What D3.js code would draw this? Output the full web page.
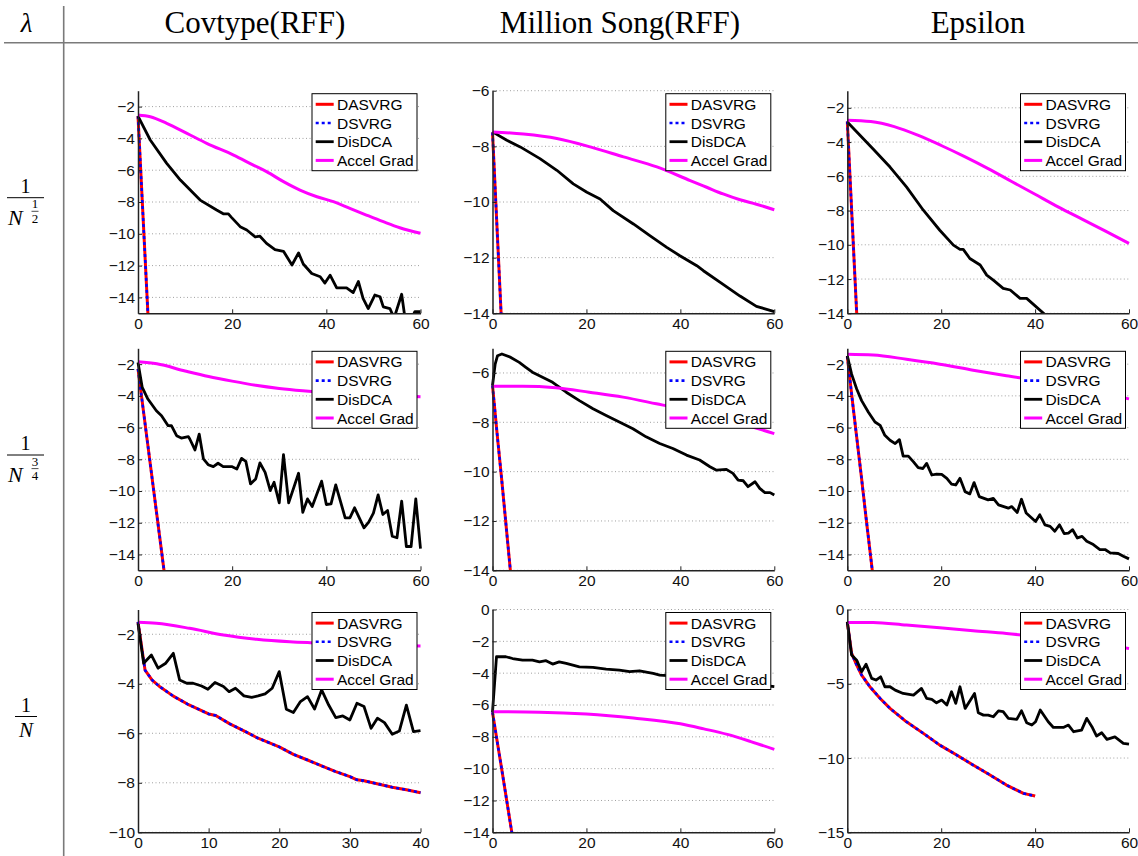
<!DOCTYPE html>
<html>
<head>
<meta charset="utf-8">
<script src="https://cdnjs.cloudflare.com/ajax/libs/d3/7.8.5/d3.min.js"></script>
<style>
  body { margin: 0; background: #fff; }
  svg text { font-family: "Liberation Sans", Arial, sans-serif; }
  svg text.serif { font-family: "Liberation Serif", "DejaVu Serif", serif; }
</style>
</head>
<body>
<svg id="chart" width="1138" height="856"></svg>
<script>
// column titles and legend names
var datasets = ["Covtype(RFF)", "Million Song(RFF)", "Epsilon"];
var seriesNames = ["DASVRG", "DSVRG", "DisDCA", "Accel Grad"];

// x ticks
var xTicks60 = [0, 20, 40, 60];
var xTicks40 = [0, 10, 20, 30, 40];

// y ranges and ticks
var yDomains = [
  [[-15, -1], [-14, -6], [-14, -1]],
  [[-15, -1], [-14, -5], [-15, -1]],
  [[-10, -1], [-14, 0], [-15, 0]]
];
var yTicksA = [-14, -12, -10, -8, -6, -4, -2];
var yTicksB = [-14, -12, -10, -8, -6];
var yTicksC = [-10, -8, -6, -4, -2];
var yTicksD = [-14, -12, -10, -8, -6, -4, -2, 0];
var yTicksE = [-15, -10, -5, 0];

// ---- lambda = 1/N^(1/2) ----
var cov1_dasvrg = [[0,-2.6],[1,-8.5],[2,-14.4],[3,-20.3]];
var cov1_disdca = [[0,-2.6],[2.6,-4.1],[6.1,-5.57],[9,-6.62],[13.2,-7.88],[16.7,-8.5],[18.2,-8.75],[19.2,-8.75],[19.8,-8.95],[21.7,-9.55],[23.1,-9.76],[24.9,-10.2],[25.9,-10.15],[27.3,-10.6],[29.1,-11.0],[30.9,-11.1],[32.7,-11.96],[34.1,-11.2],[35.1,-11.9],[36.9,-12.5],[38.7,-12.7],[39.7,-13.1],[40.8,-12.6],[42.2,-13.4],[44.3,-13.4],[45.7,-13.7],[46.8,-13.0],[47.8,-14.06],[48.9,-14.7],[50.3,-13.85],[51.4,-13.96],[52.1,-14.6],[53.5,-14.7],[54.4,-15.3],[56,-13.8],[56.8,-15.5],[58,-15.4],[58.8,-14.9],[60,-14.9]];
var cov1_accel = [[0,-2.53],[2.6,-2.64],[6.1,-3.05],[10.4,-3.68],[14.6,-4.31],[20.3,-5.05],[24.5,-5.68],[27.3,-6.09],[30.9,-6.72],[34.4,-7.25],[38,-7.67],[41.5,-7.98],[45,-8.4],[48.5,-8.82],[52.1,-9.24],[55.6,-9.62],[60,-9.97]];

var ms1_dasvrg = [[0,-7.5],[1,-11.05],[2,-14.6]];
var ms1_disdca = [[0,-7.48],[3.05,-7.78],[5.9,-8.02],[10.1,-8.44],[13.7,-8.86],[17.2,-9.35],[20.1,-9.65],[22.9,-9.89],[25.7,-10.31],[30,-10.79],[33.5,-11.21],[37.1,-11.63],[39.9,-11.93],[43.5,-12.29],[44.9,-12.47],[49.1,-12.96],[52.7,-13.38],[56.2,-13.75],[60,-13.94]];
var ms1_accel = [[0,-7.48],[6.6,-7.56],[13.7,-7.72],[20.8,-8.02],[27.9,-8.38],[35,-8.74],[42.1,-9.23],[45.6,-9.47],[49.1,-9.71],[52.7,-9.92],[56.2,-10.08],[60,-10.28]];

var eps1_dasvrg = [[0,-2.8],[1,-8.4],[2,-14],[3,-19.6]];
var eps1_disdca = [[0,-2.83],[5.5,-4.4],[9.1,-5.46],[12.6,-6.62],[16.2,-7.98],[19.7,-9.15],[22.6,-10.02],[24,-10.27],[24.7,-10.27],[26.1,-10.8],[28.3,-11.18],[29.7,-11.77],[31.1,-12.06],[33.2,-12.54],[34.7,-12.64],[36.8,-13.13],[38.2,-13.13],[41.8,-14.0],[43,-14.3]];
var eps1_accel = [[0,-2.72],[5,-2.8],[10,-3.1],[15,-3.6],[20,-4.2],[25,-4.85],[30,-5.55],[35,-6.3],[40,-7.05],[45,-7.8],[50,-8.5],[55,-9.2],[60,-9.92]];

// ---- lambda = 1/N^(3/4) ----
var cov2_dasvrg = [[0,-2.3],[1,-4.6],[2,-6.9],[3,-9.2],[4,-11.5],[5,-13.8],[6,-16.1]];
var cov2_disdca = [[0,-1.9],[0.9,-3.47],[2.1,-4.2],[3.9,-4.94],[5,-5.25],[6.4,-5.88],[7.1,-5.88],[8.2,-6.51],[9.2,-6.66],[10.7,-6.57],[11,-6.72],[12.1,-7.41],[13,-6.41],[13.9,-7.98],[14.9,-8.34],[16,-8.46],[17,-8.25],[18.1,-8.46],[19.9,-8.46],[21,-8.61],[22,-7.94],[22.9,-8.13],[23.9,-9.55],[25,-9.24],[25.9,-8.23],[27,-8.82],[28.1,-9.97],[28.9,-9.45],[30,-10.75],[30.9,-7.71],[32,-10.75],[34.1,-8.88],[35,-11.34],[36,-10.5],[37,-10.98],[39,-9.38],[40,-10.85],[41,-10.81],[42,-9.61],[44,-11.69],[45,-11.69],[46,-11.06],[48,-12.32],[49,-11.96],[50,-11.4],[51,-10.24],[52,-11.48],[53,-11.23],[54,-12.85],[55,-12.95],[56,-10.64],[57,-13.5],[58,-13.5],[59,-10.5],[60,-13.64]];
var cov2_accel = [[0,-1.85],[4,-1.98],[10,-2.43],[15,-2.78],[20,-3.07],[25,-3.33],[30,-3.53],[35,-3.68],[40,-3.8],[50,-3.95],[60,-4.05]];

var ms2_dasvrg = [[0,-6.5],[1,-8.5],[2,-10.4],[3,-12.4],[4,-14.4],[5,-16.3]];
var ms2_disdca = [[0,-6.51],[0.57,-5.64],[1.07,-5.3],[2,-5.23],[3.9,-5.37],[5.7,-5.57],[7.1,-5.77],[8.5,-5.97],[10,-6.11],[12.8,-6.38],[15.7,-6.78],[18.5,-7.12],[21.4,-7.45],[24.2,-7.72],[27,-7.99],[29.9,-8.26],[32.7,-8.59],[35.6,-8.86],[38.4,-9.06],[41.3,-9.33],[44.1,-9.53],[46.3,-9.8],[47.7,-9.94],[49.8,-9.91],[51.2,-10.07],[52.3,-10.34],[53.4,-10.37],[54.4,-10.61],[55.9,-10.41],[56.9,-10.68],[58,-10.85],[59.1,-10.85],[60,-10.95]];
var ms2_accel = [[0,-6.54],[6.4,-6.54],[13.5,-6.6],[20.6,-6.78],[27.8,-6.98],[34.9,-7.25],[40,-7.45],[45,-7.68],[50,-7.92],[55,-8.17],[60,-8.46]];

var eps2_dasvrg = [[0,-1.5],[1,-4.1],[2,-6.6],[3,-9.1],[4,-11.7],[5,-14.2],[6,-16.7]];
var eps2_disdca = [[0,-1.48],[0.92,-2.63],[2,-3.57],[3.05,-4.3],[4.5,-5.03],[5.9,-5.65],[7,-5.86],[8,-6.49],[9.1,-6.8],[10.2,-7.01],[11.1,-6.76],[11.9,-7.8],[13,-7.8],[14.1,-8.16],[15.1,-8.53],[16.1,-8.58],[16.9,-8.26],[18,-8.99],[19,-8.93],[20.1,-8.95],[21.2,-9.2],[22.2,-9.56],[23.1,-9.62],[24,-9.2],[25.1,-10.04],[26.1,-10.18],[27,-9.47],[28.1,-10.35],[30,-10.56],[31.1,-10.46],[32.2,-10.87],[34.3,-11.08],[35,-10.98],[36.2,-11.35],[37.1,-10.52],[38.1,-11.39],[40.1,-11.92],[41,-11.5],[42.1,-12.13],[43.2,-12.23],[44.2,-12.54],[45.2,-12.13],[46.2,-12.69],[47.1,-12.65],[48,-12.44],[49,-12.96],[50,-12.86],[51,-13.17],[52.4,-13.38],[53.8,-13.69],[54.9,-13.69],[56,-13.9],[57.7,-13.94],[58.8,-14.11],[60,-14.28]];
var eps2_accel = [[0,-1.37],[5.5,-1.42],[12.6,-1.69],[19.7,-2.0],[26.8,-2.38],[33.9,-2.73],[40,-3.0],[50,-3.55],[60,-4.19]];

// ---- lambda = 1/N ----
var cov3_dasvrg = [[0,-1.5],[1,-3.45],[2,-3.85],[3,-4.1],[5,-4.5],[7,-4.82],[10,-5.22],[11,-5.28],[13,-5.62],[15,-5.9],[17,-6.2],[20,-6.55],[22,-6.85],[24,-7.08],[26,-7.32],[28,-7.55],[30,-7.75],[31,-7.88],[32,-7.92],[34,-8.05],[36,-8.18],[38,-8.28],[40,-8.4]];
var cov3_disdca = [[0,-1.56],[0.8,-3.17],[1.9,-2.84],[2.84,-3.37],[3.93,-3.17],[5,-2.77],[5.9,-3.85],[6.9,-3.98],[7.8,-3.98],[9,-4.09],[9.9,-4.22],[10.9,-3.95],[12.1,-4.11],[12.9,-4.32],[13.8,-4.18],[15,-4.49],[16.1,-4.55],[17,-4.49],[18,-4.41],[19,-4.18],[20,-3.51],[21,-5.03],[22,-5.16],[23,-4.72],[24,-4.52],[25,-5.02],[26,-4.25],[27,-4.86],[28,-5.37],[29,-5.3],[30,-5.46],[31,-4.79],[32,-4.92],[33,-5.8],[33.9,-5.39],[34.9,-5.57],[36,-6.04],[37,-5.91],[38,-4.86],[39,-5.93],[40,-5.89]];
var cov3_accel = [[0,-1.52],[2.6,-1.56],[7.3,-1.76],[12.1,-2.03],[16.8,-2.2],[21.5,-2.3],[24.4,-2.34],[30,-2.4],[35,-2.44],[40,-2.47]];

var ms3_dasvrg = [[0,-6.45],[1,-8.3],[2,-10.1],[3,-11.95],[4,-13.8],[5,-15.6]];
var ms3_disdca = [[0,-6.45],[0.85,-2.97],[2.85,-2.97],[4.27,-3.08],[6.4,-3.18],[8.5,-3.18],[10,-3.29],[11.4,-3.22],[12.8,-3.43],[14.2,-3.29],[15.7,-3.39],[18.5,-3.6],[21.4,-3.64],[24.2,-3.75],[27,-3.81],[29.2,-3.91],[31.3,-3.85],[34.2,-4.02],[35.6,-4.12],[40,-4.2],[50,-4.5],[60,-4.85]];
var ms3_accel = [[0,-6.42],[10,-6.45],[20,-6.57],[30,-6.82],[40,-7.18],[45,-7.5],[50,-7.85],[55,-8.3],[60,-8.79]];

var eps3_dasvrg = [[0,-0.83],[0.92,-2.96],[2,-3.74],[3.05,-4.42],[4.8,-5.2],[7,-5.99],[9.1,-6.66],[12.6,-7.56],[16.2,-8.34],[19.7,-9.13],[23.3,-9.8],[26.8,-10.47],[30.4,-11.14],[33.9,-11.82],[37.5,-12.38],[40,-12.56]];
var eps3_disdca = [[0,-0.83],[0.92,-3.07],[2,-3.41],[3.05,-4.19],[4,-3.68],[5.2,-4.64],[6.1,-4.75],[7.1,-4.53],[8,-5.2],[9.1,-5.2],[10.2,-5.43],[11.9,-5.65],[14.1,-5.76],[15.8,-5.31],[16.9,-5.99],[18,-6.05],[19,-6.28],[20.1,-6.1],[21.2,-6.43],[22.2,-5.54],[23.1,-6.32],[24,-5.2],[25.1,-6.66],[27.1,-5.65],[27.9,-6.95],[29,-7.11],[30,-7.11],[31.1,-7.22],[32.2,-6.82],[33.2,-6.88],[34.3,-7.33],[36.1,-7.4],[37.1,-6.82],[38.2,-7.62],[39.3,-7.78],[40.1,-7.56],[41.1,-6.77],[42.8,-7.56],[43.9,-7.94],[46,-7.94],[47.1,-7.78],[48.2,-8.23],[49.9,-8.12],[51,-7.33],[52.1,-7.89],[53.1,-8.52],[54.2,-8.3],[55.3,-8.74],[57,-8.57],[58.8,-9.01],[60,-9.06]];
var eps3_accel = [[0,-0.87],[5.5,-0.87],[12.6,-1.05],[19.7,-1.23],[26.8,-1.43],[33.9,-1.61],[40,-1.82],[50,-2.18],[60,-2.62]];

// DSVRG sits exactly on DASVRG in every panel
var panels = [
  {r:0, c:0, xTicks:xTicks60, yTicks:yTicksA, s:[cov1_dasvrg, cov1_dasvrg, cov1_disdca, cov1_accel]},
  {r:0, c:1, xTicks:xTicks60, yTicks:yTicksB, s:[ms1_dasvrg, ms1_dasvrg, ms1_disdca, ms1_accel]},
  {r:0, c:2, xTicks:xTicks60, yTicks:yTicksA, s:[eps1_dasvrg, eps1_dasvrg, eps1_disdca, eps1_accel]},
  {r:1, c:0, xTicks:xTicks60, yTicks:yTicksA, s:[cov2_dasvrg, cov2_dasvrg, cov2_disdca, cov2_accel]},
  {r:1, c:1, xTicks:xTicks60, yTicks:yTicksB, s:[ms2_dasvrg, ms2_dasvrg, ms2_disdca, ms2_accel]},
  {r:1, c:2, xTicks:xTicks60, yTicks:yTicksA, s:[eps2_dasvrg, eps2_dasvrg, eps2_disdca, eps2_accel]},
  {r:2, c:0, xTicks:xTicks40, yTicks:yTicksC, s:[cov3_dasvrg, cov3_dasvrg, cov3_disdca, cov3_accel]},
  {r:2, c:1, xTicks:xTicks60, yTicks:yTicksD, s:[ms3_dasvrg, ms3_dasvrg, ms3_disdca, ms3_accel]},
  {r:2, c:2, xTicks:xTicks60, yTicks:yTicksE, s:[eps3_dasvrg, eps3_dasvrg, eps3_disdca, eps3_accel]}
];

var colX = [[138, 420.5], [492.5, 774.3], [847.3, 1129]];
var rowY = [[90.7, 313.3], [348.3, 570.3], [609.5, 832.3]];

var styles = [
  {color: "#ff0000", width: 3, dash: null},
  {color: "#0000ff", width: 2.6, dash: "3,3"},
  {color: "#000000", width: 2.8, dash: null},
  {color: "#ff00ff", width: 3, dash: null}
];

var svg = d3.select("#chart");
var minus = function(d) { return d < 0 ? "\u2212" + Math.abs(d) : String(d); };

// table frame
svg.append("line").attr("x1", 4).attr("x2", 1138).attr("y1", 42.7).attr("y2", 42.7)
  .attr("stroke", "#7a7a7a").attr("stroke-width", 1.6);
svg.append("line").attr("x1", 63.7).attr("x2", 63.7).attr("y1", 6).attr("y2", 856)
  .attr("stroke", "#7a7a7a").attr("stroke-width", 1.6);

svg.append("text").attr("class", "serif").attr("x", 26.5).attr("y", 32)
  .attr("text-anchor", "middle").attr("font-size", 27).attr("font-style", "italic")
  .text("\u03bb");

var titleX = [255, 620, 978];
datasets.forEach(function(name, i) {
  svg.append("text").attr("class", "serif").attr("x", titleX[i]).attr("y", 33)
    .attr("text-anchor", "middle").attr("font-size", 31).text(name);
});

// row labels: 1 / N^(1/2), 1 / N^(3/4), 1 / N
function fracLabel(barY, expTop, expBot) {
  var g = svg.append("g");
  var hasExp = expTop != null;
  var x1 = hasExp ? 7 : 15, x2 = hasExp ? 44 : 37;
  g.append("text").attr("class", "serif").attr("x", (x1 + x2) / 2).attr("y", barY - 5)
    .attr("text-anchor", "middle").attr("font-size", 20).text("1");
  g.append("line").attr("x1", x1).attr("x2", x2).attr("y1", barY).attr("y2", barY)
    .attr("stroke", "#000").attr("stroke-width", 1);
  if (hasExp) {
    g.append("text").attr("class", "serif").attr("x", 8).attr("y", barY + 27.3)
      .attr("font-size", 22).attr("font-style", "italic").text("N");
    g.append("text").attr("class", "serif").attr("x", 35).attr("y", barY + 10.6)
      .attr("text-anchor", "middle").attr("font-size", 13).text(expTop);
    g.append("line").attr("x1", 31.5).attr("x2", 38.5).attr("y1", barY + 13.6).attr("y2", barY + 13.6)
      .attr("stroke", "#000").attr("stroke-width", 0.7);
    g.append("text").attr("class", "serif").attr("x", 35).attr("y", barY + 25.4)
      .attr("text-anchor", "middle").attr("font-size", 13).text(expBot);
  } else {
    g.append("text").attr("class", "serif").attr("x", 26).attr("y", barY + 20)
      .attr("text-anchor", "middle").attr("font-size", 21).attr("font-style", "italic").text("N");
  }
}
fracLabel(197.7, "1", "2");
fracLabel(455, "3", "4");
fracLabel(716.5, null, null);

var defs = svg.append("defs");

panels.forEach(function(p, k) {
  var xr = colX[p.c], yr = rowY[p.r];
  var xMax = p.xTicks[p.xTicks.length - 1];
  var x = d3.scaleLinear().domain([0, xMax]).range(xr);
  var y = d3.scaleLinear().domain(yDomains[p.r][p.c]).range([yr[1], yr[0]]);

  var g = svg.append("g");

  // dotted horizontal grid
  g.selectAll("line.grid").data(p.yTicks).enter().append("line")
    .attr("class", "grid")
    .attr("x1", xr[0]).attr("x2", xr[1])
    .attr("y1", function(d) { return y(d); }).attr("y2", function(d) { return y(d); })
    .attr("stroke", "#a0a0a0").attr("stroke-width", 1).attr("stroke-dasharray", "1,2.5");

  defs.append("clipPath").attr("id", "clip" + k).append("rect")
    .attr("x", xr[0] - 3).attr("y", yr[0] - 3)
    .attr("width", xr[1] - xr[0] + 6).attr("height", yr[1] - yr[0] + 3);

  var line = d3.line().x(function(d) { return x(d[0]); }).y(function(d) { return y(d[1]); });
  var lines = g.append("g").attr("clip-path", "url(#clip" + k + ")");
  p.s.forEach(function(data, i) {
    var st = styles[i];
    var path = lines.append("path").datum(data)
      .attr("d", i == 3 ? line.curve(d3.curveMonotoneX) : line.curve(d3.curveLinear))
      .attr("fill", "none").attr("stroke", st.color).attr("stroke-width", st.width)
      .attr("stroke-linejoin", "round");
    if (st.dash) path.attr("stroke-dasharray", st.dash);
  });

  // axes, inward ticks, no box
  var yAxis = d3.axisLeft(y).tickValues(p.yTicks).tickFormat(minus)
    .tickSize(-4).tickSizeOuter(0).tickPadding(3);
  var xAxis = d3.axisBottom(x).tickValues(p.xTicks).tickFormat(minus)
    .tickSize(-4).tickSizeOuter(0).tickPadding(5);

  var ya = g.append("g").attr("transform", "translate(" + xr[0] + ",0)").call(yAxis);
  var xa = g.append("g").attr("transform", "translate(0," + yr[1] + ")").call(xAxis);
  [ya, xa].forEach(function(a) {
    a.select(".domain").attr("stroke", "#222").attr("stroke-width", 1.5);
    a.selectAll(".tick line").attr("stroke", "#222");
    a.selectAll("text").attr("font-size", 15.5).attr("fill", "#111")
      .attr("font-family", "'Liberation Sans', Arial, sans-serif");
  });

  // legend
  var lw = 105, lh = 77;
  var lx = xr[1] - 3.5 - lw, ly = yr[0] + 3;
  var lg = g.append("g").attr("transform", "translate(" + lx + "," + ly + ")");
  lg.append("rect").attr("width", lw).attr("height", lh)
    .attr("fill", "#fff").attr("stroke", "#000").attr("stroke-width", 1);
  seriesNames.forEach(function(name, i) {
    var yy = 10.6 + i * 18.7;
    var st = styles[i];
    var l = lg.append("line").attr("x1", 3.7).attr("x2", 21.7).attr("y1", yy).attr("y2", yy)
      .attr("stroke", st.color).attr("stroke-width", st.width);
    if (st.dash) l.attr("stroke-dasharray", st.dash);
    lg.append("text").attr("x", 25).attr("y", yy).attr("dy", "0.36em")
      .attr("font-size", 15.5).attr("fill", "#000").text(name);
  });
});
</script>
</body>
</html>
